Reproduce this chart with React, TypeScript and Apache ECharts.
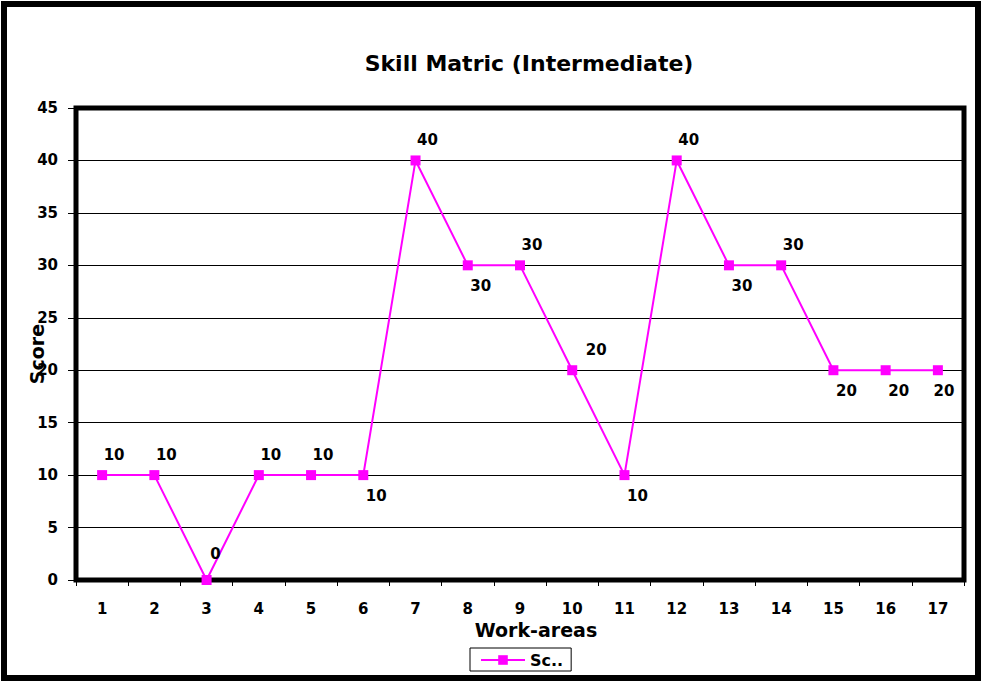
import React, { useEffect, useRef } from "react";
import * as echarts from "echarts";

const categories = ["1","2","3","4","5","6","7","8","9","10","11","12","13","14","15","16","17"];
const scores = [10, 10, 0, 10, 10, 10, 40, 30, 30, 20, 10, 40, 30, 30, 20, 20, 20];
// label side: "a" above-right, "b" below-right
const labelSide = ["a","a","a","a","a","b","a","b","a","a","b","a","b","a","b","b","b"];
const yTicks = [0, 5, 10, 15, 20, 25, 30, 35, 40, 45];

const titleText = "Skill Matric (Intermediate)";
const seriesName = "Sc..";
const xName = "Work-areas";
const yName = "Score";

export default function App() {
  const ref = useRef<HTMLDivElement>(null);
  useEffect(() => {
    if (!ref.current) return;
    const chart = echarts.init(ref.current, null, { renderer: "svg" });
    const font = "'DejaVu Sans', Verdana, sans-serif";
    const data = scores.map((v, i) => {
      const above = labelSide[i] === "a";
      let offset = above ? [12, -3] : [13, 3];
      if (i === 2) offset = [9, -9];
      if (i === 9) offset = [24, -3];
      if (i === 16) offset = [6, 3];
      return {
        value: v,
        label: {
          position: above ? "top" : "bottom",
          offset,
        },
      };
    });
    chart.setOption({
      animation: false,
      backgroundColor: "#fff",
      textStyle: { fontFamily: font },
      title: {
        text: titleText,
        left: 524,
        textAlign: "center",
        top: 47,
        textStyle: { fontFamily: font, fontWeight: "bold", fontSize: 22, color: "#000" },
      },
      legend: {
        data: [seriesName],
        left: 470,
        top: 648,
        padding: [4, 8, 3, 10],
        borderColor: "#000",
        borderWidth: 1,
        itemWidth: 44,
        itemHeight: 12,
        itemGap: 4,
        textStyle: { fontFamily: font, fontWeight: "bold", fontSize: 16, color: "#000" },
      },
      grid: {
        left: 76,
        right: 19,
        top: 108,
        bottom: 103,
        show: true,
        borderColor: "#000",
        borderWidth: 5,
        backgroundColor: "#fff",
      },
      xAxis: {
        type: "category",
        data: categories,
        boundaryGap: true,
        name: xName,
        nameLocation: "middle",
        nameGap: 34,
        nameTextStyle: { fontFamily: font, fontWeight: "bold", fontSize: 19, color: "#000", padding: [0, 0, 0, 32] },
        axisLine: { show: false },
        axisTick: { show: true, length: 6, inside: false, lineStyle: { color: "#000", width: 1 } },
        axisLabel: { margin: 21, fontFamily: font, fontWeight: "bold", fontSize: 15, color: "#000" },
        splitLine: { show: false },
      },
      yAxis: {
        type: "value",
        min: yTicks[0],
        max: yTicks[yTicks.length - 1],
        interval: 5,
        name: yName,
        nameLocation: "middle",
        nameGap: 30,
        nameMoveOverlap: false,
        nameTextStyle: { fontFamily: font, fontWeight: "bold", fontSize: 19, color: "#000", padding: [0, 20, 0, 0] },
        axisLine: { show: false },
        axisTick: { show: true, length: 8, lineStyle: { color: "#000", width: 1 } },
        axisLabel: { margin: 18, fontFamily: font, fontWeight: "bold", fontSize: 15, color: "#000" },
        splitLine: { show: true, lineStyle: { color: "#000", width: 1 } },
      },
      series: [
        {
          name: seriesName,
          type: "line",
          data,
          symbol: "rect",
          symbolSize: 10,
          lineStyle: { color: "#ff00ff", width: 2 },
          itemStyle: { color: "#ff00ff" },
          label: {
            show: true,
            fontFamily: font,
            fontWeight: "bold",
            fontSize: 15,
            color: "#000",
          },
          z: 5,
        },
      ],
      graphic: [
        {
          type: "rect",
          shape: { x: 4, y: 4, width: 974, height: 674 },
          style: { fill: "none", stroke: "#000", lineWidth: 6 },
          silent: true,
          z: 100,
        },
      ],
    });
    return () => chart.dispose();
  }, []);
  return <div ref={ref} style={{ width: 983, height: 683, position: "absolute", left: 0, top: 0 }} />;
}
